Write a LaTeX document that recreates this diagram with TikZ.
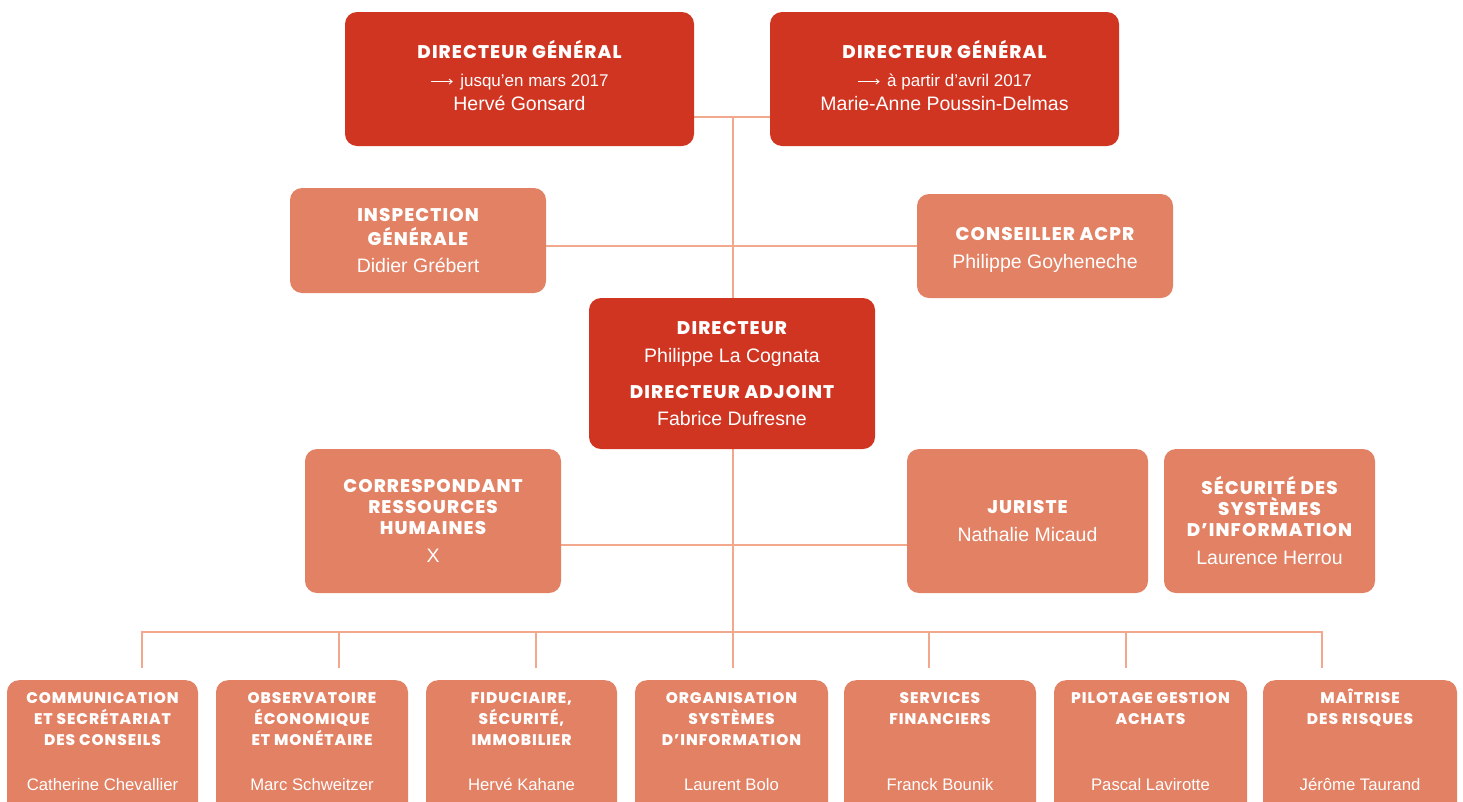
\documentclass[tikz,border=0pt]{standalone}
\usepackage{fontspec}
\setmainfont{Liberation Sans}
\IfFontExistsTF{Poppins ExtraBold}
  {\newfontfamily\ttlfam[LetterSpace=6,BoldFont={Poppins ExtraBold}]{Poppins}}
  {\newfontfamily\ttlfam[LetterSpace=7]{Poppins}}
\usetikzlibrary{arrows.meta,backgrounds}
\definecolor{dred}{HTML}{D03522}
\definecolor{lred}{HTML}{E28164}
\definecolor{lline}{HTML}{F2A88D}
\newcommand{\tA}{\fontsize{18.3}{21}\selectfont\ttlfam\bfseries}
\newcommand{\tB}{\fontsize{15.4}{21}\selectfont\ttlfam\bfseries}
\newcommand{\nA}{\fontsize{19.5}{21}\selectfont}
\newcommand{\nB}{\fontsize{16.7}{21}\selectfont}
\newcommand{\nS}{\fontsize{17}{21}\selectfont}
\newcommand{\arr}{\tikz[baseline=-0.5ex]\draw[white,line width=0.9pt,-{Straight Barb[length=3pt,width=5pt]}] (0,0) -- (22pt,0);\hspace{7pt}}
\begin{document}
\begin{tikzpicture}[x=1pt,y=-1pt,
  box/.style={rounded corners=12pt, inner sep=0pt, align=center, text=white, font=\fontsize{16}{21}\selectfont},
  dark/.style={box, fill=dred},
  light/.style={box, fill=lred},
  conn/.style={draw=lline, line width=1.5pt},
  btitle/.style={inner sep=0pt, align=center, text=white, anchor=north, font=\tB},
  bname/.style={inner sep=0pt, text=white, anchor=base, font=\nB},
]
\useasboundingbox (0,0) rectangle (1463,801);
% hub coordinates
\coordinate (hubA) at (733,117);
\coordinate (hubB) at (733,246);
\coordinate (hubC) at (733,545);
\coordinate (hubD) at (733,632);
\coordinate (hubE) at (733,668);

% boxes (nodes)
\node[dark, minimum width=349, minimum height=134] (dg1) at (519.5,79) {{\tA DIRECTEUR GÉNÉRAL}\\[7pt]{\nS\arr jusqu’en mars 2017}\\[3pt]{\nA Hervé Gonsard\rule[-8pt]{0pt}{1pt}}};
\node[dark, minimum width=349, minimum height=134] (dg2) at (944.5,79) {{\tA DIRECTEUR GÉNÉRAL}\\[7pt]{\nS\arr à partir d’avril 2017}\\[3pt]{\nA Marie-Anne Poussin-Delmas\rule[-8pt]{0pt}{1pt}}};
\node[light, minimum width=256, minimum height=105] (insp) at (418,240.5) {{\tA INSPECTION}\\[3pt]{\tA GÉNÉRALE}\\[6pt]{\nA Didier Grébert}};
\node[light, minimum width=256, minimum height=104] (cons) at (1045,246) {{\tA\rule{0pt}{21pt}CONSEILLER ACPR}\\[7pt]{\nA Philippe Goyheneche}};
\node[dark, minimum width=286, minimum height=151] (dir) at (732,373.5) {{\tA DIRECTEUR}\\[7pt]{\nA Philippe La Cognata}\\[15pt]{\tA DIRECTEUR ADJOINT}\\[6pt]{\nA Fabrice Dufresne}};
\node[light, minimum width=256, minimum height=144] (crh) at (433,521) {{\tA CORRESPONDANT}\\{\tA RESSOURCES}\\{\tA HUMAINES}\\[7pt]{\nA X}};
\node[light, minimum width=241, minimum height=144] (jur) at (1027.5,521) {{\tA JURISTE}\\[7pt]{\nA Nathalie Micaud}};
\node[light, minimum width=211, minimum height=144] (ssi) at (1269.5,521) {{\tA SÉCURITÉ DES}\\{\tA SYSTÈMES}\\{\tA D’INFORMATION}\\[7pt]{\nA Laurence Herrou}};

% bottom boxes
\foreach \n/\xa/\xb/\sx in {b1/7/198/142, b2/216/408/339, b3/426/617/536, b4/635/828/733, b5/844/1036/929, b6/1054/1247/1126, b7/1263/1457/1322}{
  \node[light, anchor=north, minimum width={\xb-\xa}, minimum height=150] (\n) at ({(\xa+\xb)/2},680) {};
  \coordinate (\n s) at (\sx,668);
}
\node[btitle] (b1t) at (b1.north |- 0,689) {\rule{0pt}{14pt}COMMUNICATION\\ET SECRÉTARIAT\\DES CONSEILS};
\node[btitle] (b2t) at (b2.north |- 0,689) {\rule{0pt}{14pt}OBSERVATOIRE\\ÉCONOMIQUE\\ET MONÉTAIRE};
\node[btitle] (b3t) at (b3.north |- 0,689) {\rule{0pt}{14pt}FIDUCIAIRE,\\SÉCURITÉ,\\IMMOBILIER};
\node[btitle] (b4t) at (b4.north |- 0,689) {\rule{0pt}{14pt}ORGANISATION\\SYSTÈMES\\D’INFORMATION};
\node[btitle] (b5t) at (b5.north |- 0,689) {\rule{0pt}{14pt}SERVICES\\FINANCIERS};
\node[btitle] (b6t) at (b6.north |- 0,689) {\rule{0pt}{14pt}PILOTAGE GESTION\\ACHATS};
\node[btitle] (b7t) at (b7.north |- 0,689) {\rule{0pt}{14pt}MAÎTRISE\\DES RISQUES};
\node[bname] (b1n) at (b1.north |- 0,790) {Catherine Chevallier};
\node[bname] (b2n) at (b2.north |- 0,790) {Marc Schweitzer};
\node[bname] (b3n) at (b3.north |- 0,790) {Hervé Kahane};
\node[bname] (b4n) at (b4.north |- 0,790) {Laurent Bolo};
\node[bname] (b5n) at (b5.north |- 0,790) {Franck Bounik};
\node[bname] (b6n) at (b6.north |- 0,790) {Pascal Lavirotte};
\node[bname] (b7n) at (b7.north |- 0,790) {Jérôme Taurand};

% connectors (behind boxes)
\begin{scope}[on background layer]
  \draw[conn] (hubA -| dg1.east) -- (hubA -| dg2.west);
  \draw[conn] (hubA) -- (hubE);
  \draw[conn] (hubB -| insp.east) -- (hubB -| cons.west);
  \draw[conn] (hubC -| crh.east) -- (hubC -| jur.west);
  \draw[conn] (b1s) -- (hubD -| b1s) -- (hubD -| b7s) -- (b7s);
  \foreach \n in {b2,b3,b5,b6}{\draw[conn] (\n s) -- (hubD -| \n s);}
\end{scope}
\end{tikzpicture}
\end{document}
